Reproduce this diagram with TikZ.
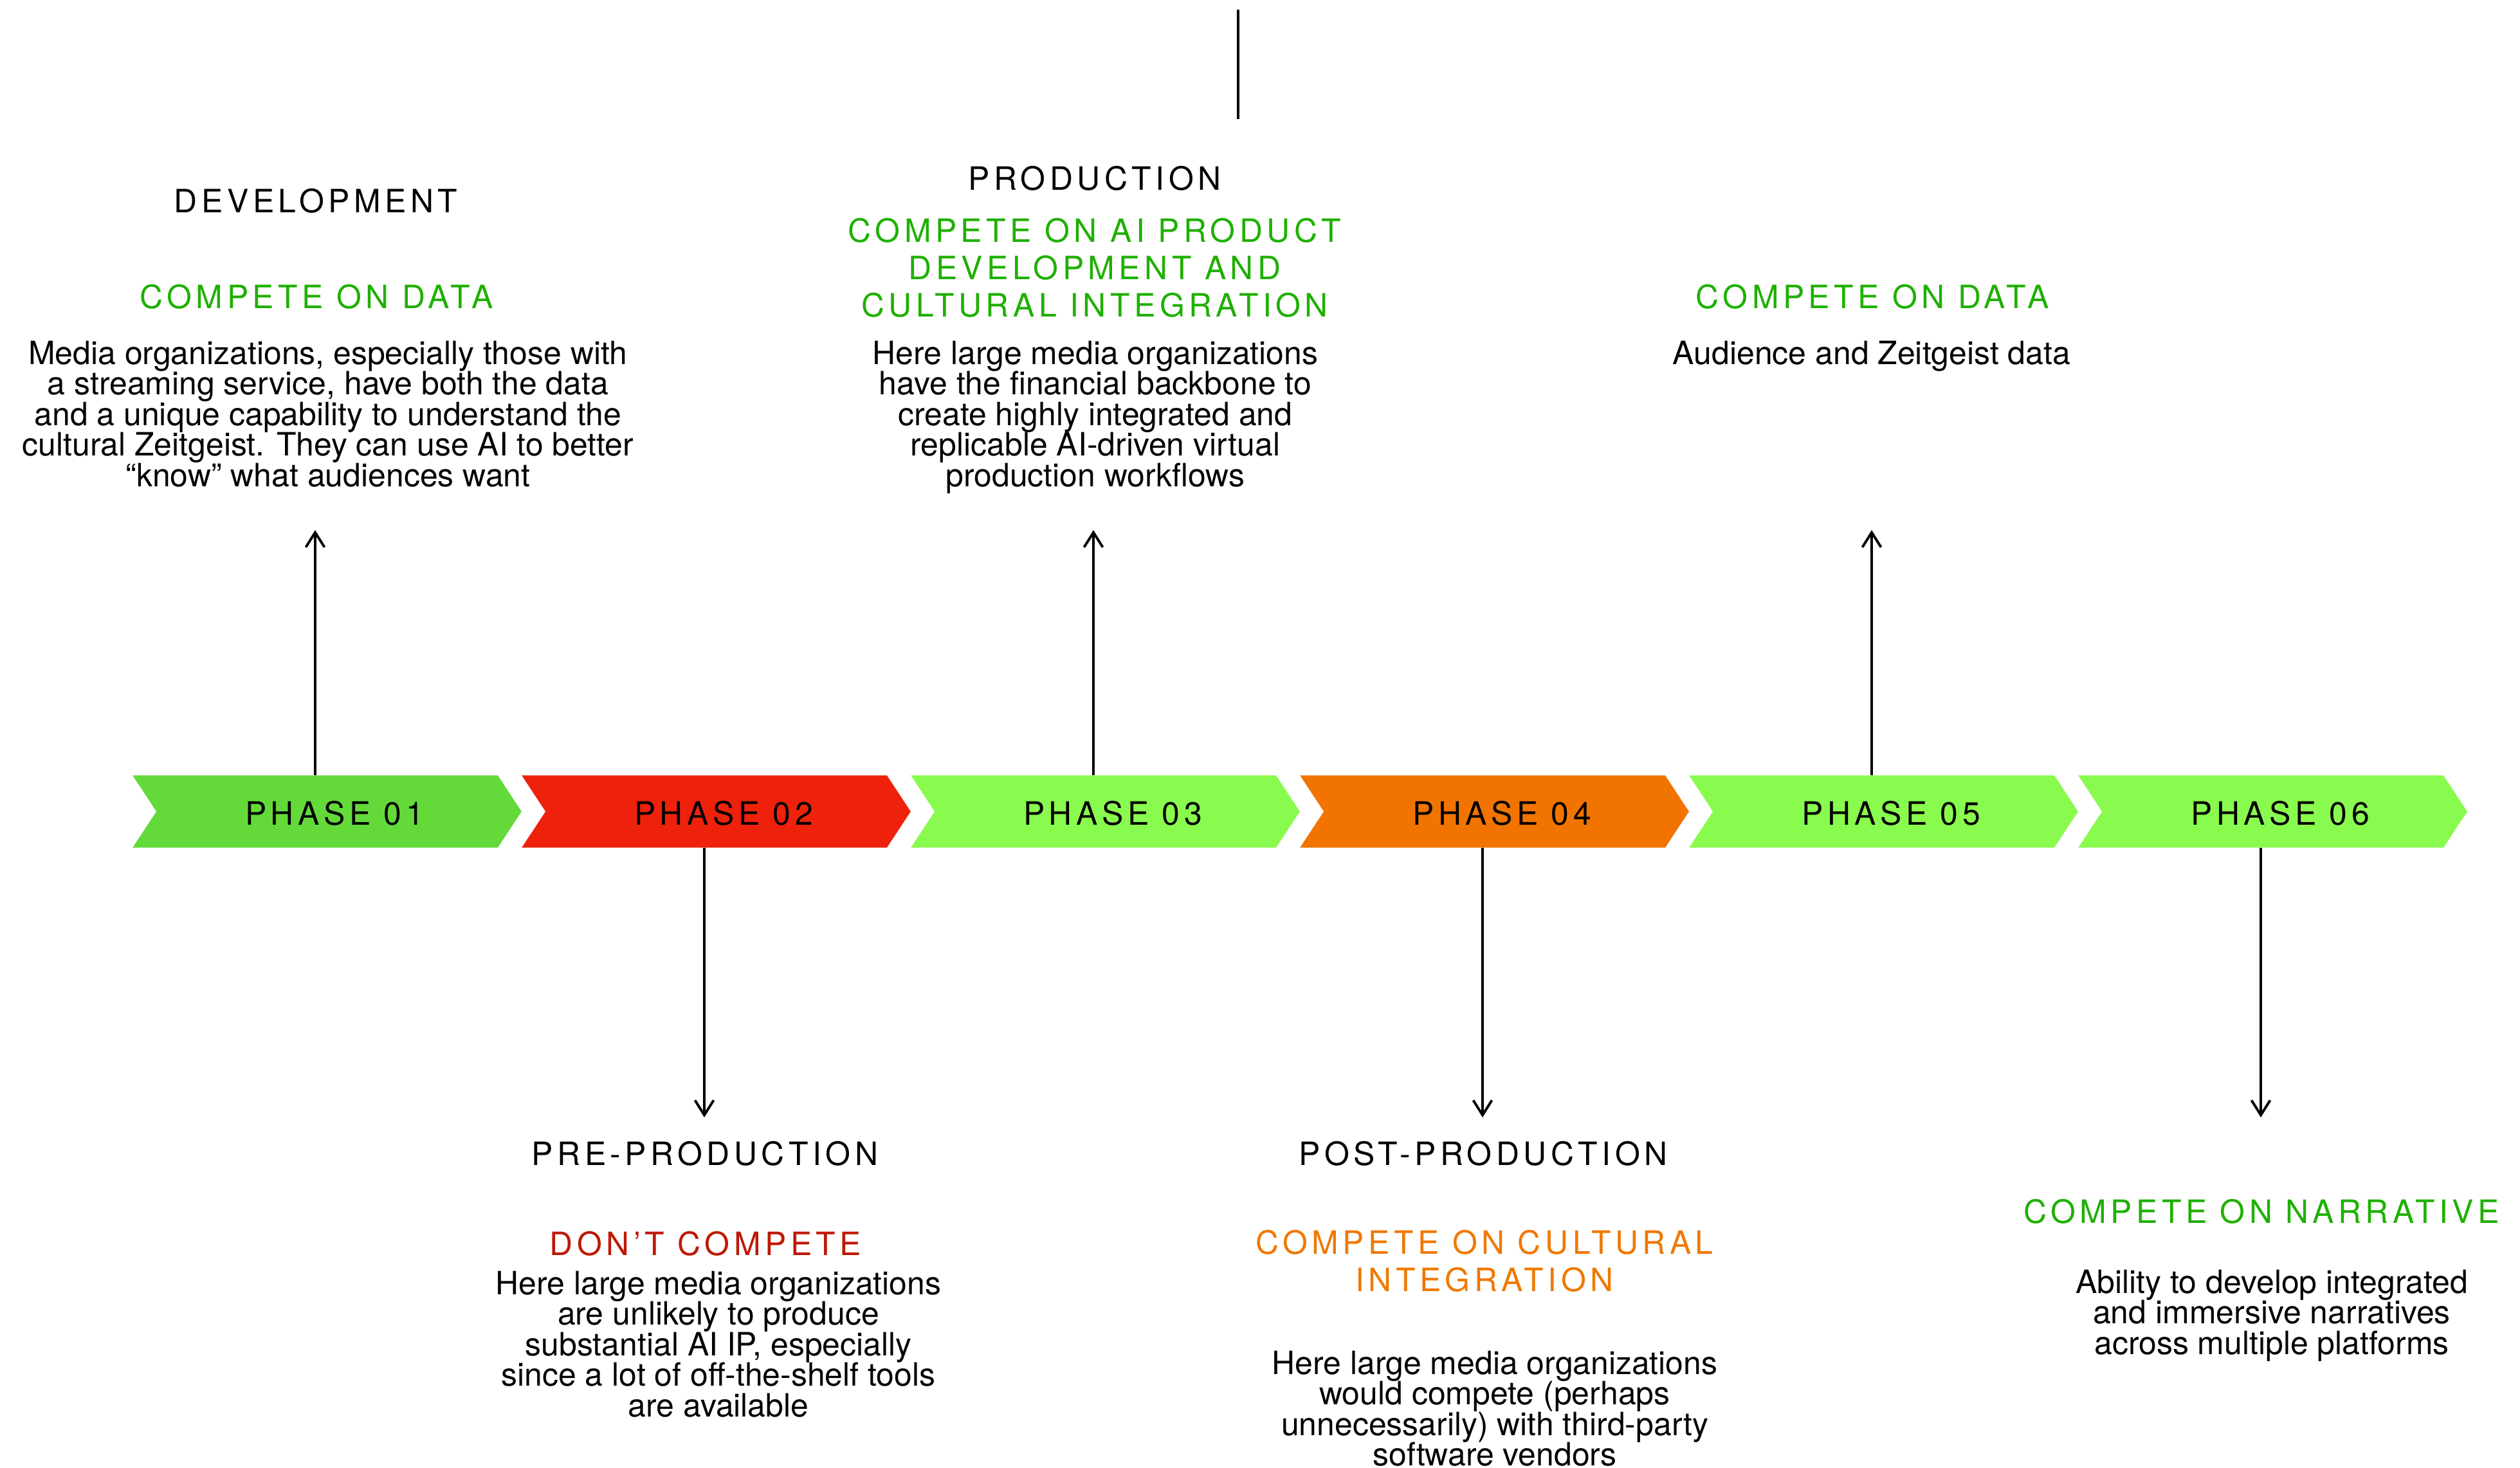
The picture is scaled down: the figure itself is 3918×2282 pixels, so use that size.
\documentclass[tikz,border=0pt]{standalone}
\usepackage{fontspec}
\setmainfont{TeX Gyre Heros}
\newfontfamily\capsfont[LetterSpace=13]{TeX Gyre Heros}
\usetikzlibrary{arrows.meta}

\definecolor{phaseGreen}{RGB}{100,218,58}
\definecolor{phaseRed}{RGB}{238,34,12}
\definecolor{phaseLime}{RGB}{137,250,78}
\definecolor{phaseOrange}{RGB}{242,116,0}
\definecolor{txtGreen}{RGB}{30,176,0}
\definecolor{txtRed}{RGB}{190,24,6}
\definecolor{txtOrange}{RGB}{240,120,0}

\begin{document}
\begin{tikzpicture}[x=0.01cm,y=-0.01cm,
  stage/.style={inner sep=0pt, minimum width=5.66cm, minimum height=1.11cm},
  phaselabel/.style={anchor=north, inner sep=0pt, font=\capsfont\fontsize{14.2}{17}\selectfont},
  heading/.style={anchor=north, inner sep=0pt, align=center, font=\capsfont\fontsize{14.2}{16.6}\selectfont},
  body/.style={anchor=north, inner sep=0pt, align=center, font=\fontsize{14.2}{13.5}\selectfont},
  link/.style={line width=1.1pt, -{Straight Barb[length=0.23cm,width=0.29cm]}},
]
\fill[white] (0,0) rectangle (3918,2282);
\useasboundingbox (0,0) rectangle (3918,2282);

% the six phase chevrons
\foreach \i/\L/\col in {1/207/phaseGreen, 2/812/phaseRed, 3/1417/phaseLime,
                        4/2022/phaseOrange, 5/2627/phaseLime, 6/3232/phaseLime} {
  \node[stage] (p\i) at (\L+283,1261.5) {};
  \fill[\col] (p\i.north west) -- (p\i.north east) -- ([xshift=0.37cm]p\i.east)
    -- (p\i.south east) -- (p\i.south west) -- ([xshift=0.37cm]p\i.west) -- cycle;
  \node[phaselabel] (lab\i) at (\L+313,1244) {PHASE 0\i};
}

% short rule at the top
\coordinate (ruleA) at (1925,15);
\coordinate (ruleB) at (1925,185);
\draw[line width=1.1pt] (ruleA) -- (ruleB);

% arrow ends
\coordinate (up1) at (490,824);
\coordinate (up3) at (1700,824);
\coordinate (up5) at (2910,824);
\coordinate (dn2) at (1095,1737);
\coordinate (dn4) at (2305,1737);
\coordinate (dn6) at (3515,1737);
\draw[link] (p1.north) -- (up1);
\draw[link] (p3.north) -- (up3);
\draw[link] (p5.north) -- (up5);
\draw[link] (p2.south) -- (dn2);
\draw[link] (p4.south) -- (dn4);
\draw[link] (p6.south) -- (dn6);

% phase 01
\node[heading] (h1) at (491,292) {DEVELOPMENT};
\node[heading, text=txtGreen] (c1) at (492,441) {COMPETE ON DATA};
\node[body] (b1) at (510,529) {Media organizations, especially those with\\a streaming service, have both the data\\and a unique capability to understand the\\cultural Zeitgeist. They can use AI to better\\“know” what audiences want};

% phase 02
\node[heading] (h2) at (1096,1773) {PRE-PRODUCTION};
\node[heading, text=txtRed] (c2) at (1097,1913) {DON’T COMPETE};
\node[body] (b2) at (1117,1975) {Here large media organizations\\are unlikely to produce\\substantial AI IP, especially\\since a lot of off-the-shelf tools\\are available};

% phase 03
\node[heading] (h3) at (1702,257) {PRODUCTION};
\node[heading, text=txtGreen] (c3) at (1702,338) {COMPETE ON AI PRODUCT\\DEVELOPMENT AND\\CULTURAL INTEGRATION};
\node[body] (b3) at (1703,529) {Here large media organizations\\have the financial backbone to\\create highly integrated and\\replicable AI-driven virtual\\production workflows};

% phase 04
\node[heading] (h4) at (2306,1773) {POST-PRODUCTION};
\node[heading, text=txtOrange] (c4) at (2308,1911) {COMPETE ON CULTURAL\\INTEGRATION};
\node[body] (b4) at (2324,2099) {Here large media organizations\\would compete (perhaps\\unnecessarily) with third-party\\software vendors};

% phase 05
\node[heading, text=txtGreen] (c5) at (2911,441) {COMPETE ON DATA};
\node[body] (b5) at (2910,529) {Audience and Zeitgeist data};

% phase 06
\node[heading, text=txtGreen] (c6) at (3516,1863) {COMPETE ON NARRATIVE};
\node[body] (b6) at (3532,1973) {Ability to develop integrated\\and immersive narratives\\across multiple platforms};
\end{tikzpicture}
\end{document}
